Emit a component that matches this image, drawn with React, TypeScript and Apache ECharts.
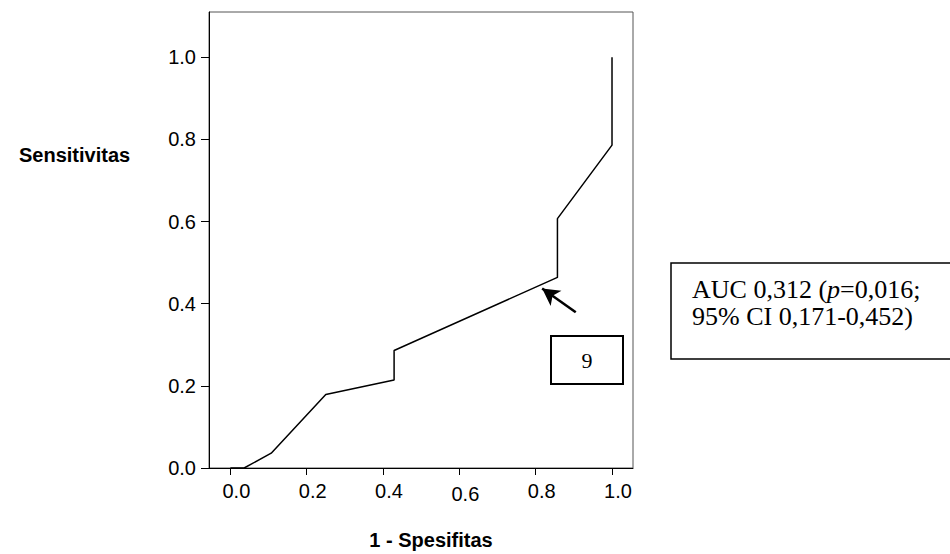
import React, { useEffect, useRef } from "react";
import * as echarts from "echarts";

// 1 - specificity (x) and sensitivity (y) of the ROC curve
const fpr = [0, 0.036, 0.107, 0.25, 0.429, 0.429, 0.857, 0.857, 1.0, 1.0];
const tpr = [0, 0, 0.036, 0.179, 0.214, 0.286, 0.464, 0.607, 0.786, 1.0];
const tickValues = [0, 0.2, 0.4, 0.6, 0.8, 1.0];
const xTitle = "1 - Spesifitas";
const yTitle = "Sensitivitas";
const boxLabel = "9";
const aucLine1 = ["AUC 0,312 (", "p", "=0,016;"];
const aucLine2 = "95% CI 0,171-0,452)";
const arrowTail = [0.905, 0.379];
const arrowTip = [0.817, 0.437];

const SANS = "'Liberation Sans', Arial, sans-serif";
const SERIF = "'Liberation Serif', 'Times New Roman', serif";

export default function App() {
  const ref = useRef<HTMLDivElement>(null);
  useEffect(() => {
    if (!ref.current) return;
    const chart = echarts.init(ref.current, undefined, { renderer: "svg" });
    const data = fpr.map((x, i) => [x, tpr[i]]);
    chart.setOption({
      animation: false,
      backgroundColor: "#fff",
      grid: {
        left: 209,
        right: 317,
        top: 12,
        bottom: 86,
        show: true,
        borderColor: "#555",
        borderWidth: 1,
        backgroundColor: "transparent",
      },
      xAxis: {
        type: "value",
        min: -0.056,
        max: 1.055,
        splitLine: { show: false },
        axisLine: { show: true, onZero: false, lineStyle: { color: "#000", width: 1 } },
        axisTick: { show: true, length: 7, customValues: tickValues, lineStyle: { color: "#000" } },
        axisLabel: {
          customValues: tickValues,
          margin: 13,
          color: "#000",
          fontFamily: SANS,
          fontSize: 20,
          padding: [0, 0, 0, 12],
          formatter: (v: number) => (Math.abs(v - 0.6) < 1e-6 ? "{d|" + v.toFixed(1) + "}" : v.toFixed(1)),
          rich: { d: { fontFamily: SANS, fontSize: 20, color: "#000", padding: [3, 0, 0, 0] } },
        },
      },
      yAxis: {
        type: "value",
        min: 0,
        max: 1.11,
        splitLine: { show: false },
        axisLine: { show: true, onZero: false, lineStyle: { color: "#000", width: 1 } },
        axisTick: { show: true, length: 8, customValues: tickValues, lineStyle: { color: "#000" } },
        axisLabel: {
          customValues: tickValues,
          margin: 13,
          color: "#000",
          fontFamily: SANS,
          fontSize: 20,
          formatter: (v: number) => v.toFixed(1),
        },
      },
      series: [
        {
          type: "line",
          data,
          showSymbol: false,
          symbol: "none",
          lineStyle: { color: "#000", width: 1.5 },
          markLine: {
            silent: true,
            symbol: ["none", "arrow"],
            symbolSize: [14, 17],
            label: { show: false },
            lineStyle: { color: "#000", width: 2.5, type: "solid" },
            data: [[{ coord: arrowTail }, { coord: arrowTip }]],
          },
        },
      ],
      graphic: [
        {
          type: "text",
          left: 19,
          top: 145,
          style: { text: yTitle, fontFamily: SANS, fontWeight: "bold", fontSize: 20, fill: "#000" },
        },
        {
          type: "text",
          x: 431,
          y: 540,
          style: {
            text: xTitle,
            fontFamily: SANS,
            fontWeight: "bold",
            fontSize: 20,
            fill: "#000",
            align: "center",
            verticalAlign: "middle",
          },
        },
        {
          type: "rect",
          shape: { x: 551, y: 336, width: 72, height: 48 },
          style: { fill: "#fff", stroke: "#000", lineWidth: 2 },
        },
        {
          type: "text",
          x: 587,
          y: 360,
          style: {
            text: boxLabel,
            fontFamily: SERIF,
            fontSize: 22,
            fill: "#000",
            align: "center",
            verticalAlign: "middle",
          },
        },
        {
          type: "rect",
          shape: { x: 671, y: 263, width: 300, height: 96 },
          style: { fill: "#fff", stroke: "#000", lineWidth: 1.5 },
        },
        {
          type: "text",
          x: 692,
          y: 276,
          style: {
            text:
              "{n|" + aucLine1[0] + "}{i|" + aucLine1[1] + "}{n|" + aucLine1[2] + "}\n{n|" + aucLine2 + "}",
            rich: {
              n: { fontFamily: SERIF, fontSize: 26, lineHeight: 27, fill: "#000" },
              i: { fontFamily: SERIF, fontSize: 26, lineHeight: 27, fontStyle: "italic", fill: "#000" },
            },
          },
        },
      ],
    });
    return () => chart.dispose();
  }, []);
  return <div ref={ref} style={{ position: "fixed", left: 0, top: 0, width: 950, height: 554 }} />;
}
